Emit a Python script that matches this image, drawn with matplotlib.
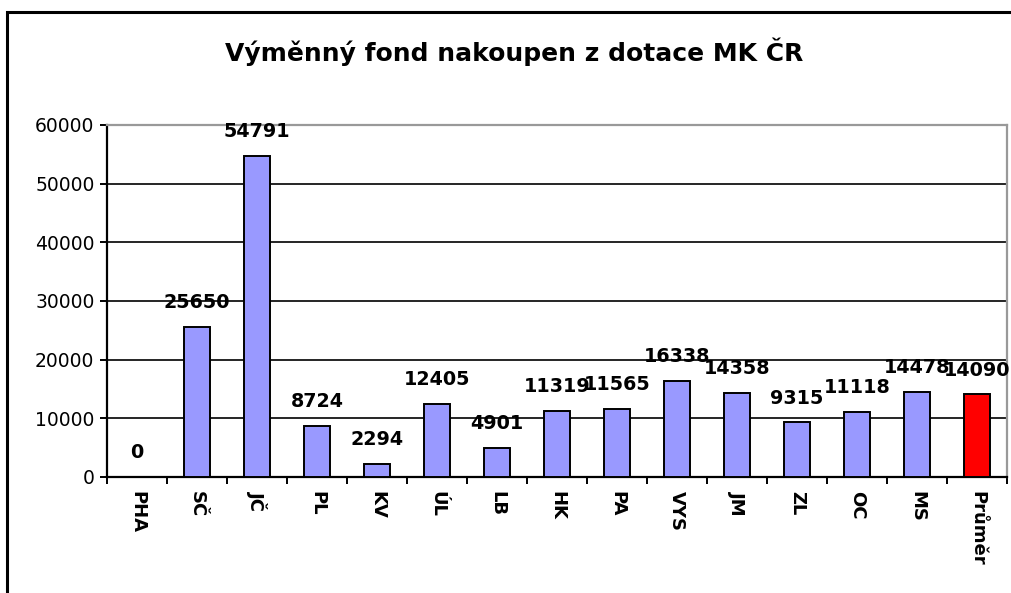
import matplotlib
matplotlib.use("Agg")
import matplotlib.pyplot as plt
from matplotlib.patches import Rectangle
from matplotlib.ticker import FixedLocator

title = "Výměnný fond nakoupen z dotace MK ČR"
categories = ["PHA", "SČ", "JČ", "PL", "KV", "ÚL", "LB", "HK", "PA", "VYS",
              "JM", "ZL", "OC", "MS", "Průměr"]
values = [0, 25650, 54791, 8724, 2294, 12405, 4901, 11319, 11565, 16338,
          14358, 9315, 11118, 14478, 14090]
bar_colors = ["#9999FF"] * 14 + ["#FF0000"]
y_ticks = [0, 10000, 20000, 30000, 40000, 50000, 60000]

plt.rcParams['font.family'] = ['DejaVu Sans']
W, H = 1011, 593
fig = plt.figure(figsize=(W / 100, H / 100), dpi=100)
ax = fig.add_axes([107 / W, (H - 477) / H, 900 / W, 352 / H])

x = list(range(len(categories)))
ax.bar(x, values, width=0.43, color=bar_colors, edgecolor="black", linewidth=1.4, zorder=3)

for xi, v in zip(x, values):
    ax.annotate(str(v), (xi, v), xytext=(0, 13.5), textcoords="offset points",
                ha="center", va="baseline", fontsize=13.8, fontweight="bold", zorder=4)

ax.set_xlim(-0.5, len(categories) - 0.5)
ax.set_ylim(0, 60000)
ax.set_yticks(y_ticks)
ax.set_yticklabels([str(t) for t in y_ticks], fontsize=13.5)
ax.yaxis.grid(True, color="black", linewidth=1.2, zorder=0)
ax.set_axisbelow(True)

ax.set_xticks(x)
ax.set_xticklabels(categories, rotation=270, fontsize=13, fontweight="bold",
                   va="top", ha="center")
ax.xaxis.set_minor_locator(FixedLocator([i - 0.5 for i in range(len(categories) + 1)]))
ax.tick_params(axis="x", which="major", length=0, pad=10)
ax.tick_params(axis="x", which="minor", length=5, width=1.4, direction="out")
ax.tick_params(axis="y", length=5, width=1.4, direction="out", pad=4)

for s in ["left", "bottom"]:
    ax.spines[s].set_color("black")
    ax.spines[s].set_linewidth(1.6)
for s in ["top", "right"]:
    ax.spines[s].set_color("#999999")
    ax.spines[s].set_linewidth(1.6)

fig.text(514 / W, 1 - 52 / H, title, ha="center", va="center",
         fontsize=18, fontweight="bold")

fig.add_artist(Rectangle((7 / W, -0.1), 1.2, (H - 12) / H + 0.1,
                         transform=fig.transFigure, fill=False,
                         edgecolor="black", linewidth=2.2, clip_on=False))

fig.savefig("out.png", dpi=100)
